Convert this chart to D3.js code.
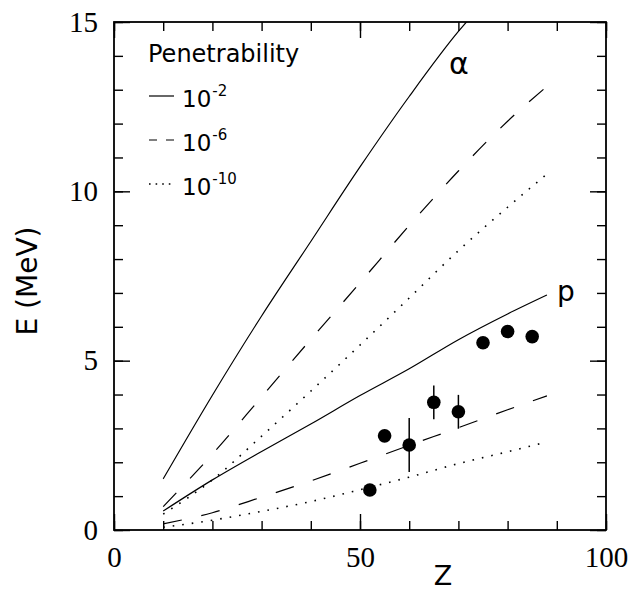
<!DOCTYPE html>
<html><head><meta charset="utf-8">
<script src="https://cdn.jsdelivr.net/npm/d3@7"></script>
<style>body{margin:0;background:#fff}</style>
</head><body><svg id="chart" width="642" height="593"></svg>
<script>
// ---- data ----
const zGrid = [10, 20, 30, 40, 50, 60, 70, 80, 88];
const zAlphaSolid = [10, 20, 30, 40, 50, 60, 70, 75];
const alphaPen2  = [1.51, 3.98, 6.32, 8.52, 10.72, 12.80, 14.72, 15.55];
const alphaPen6  = [0.69, 2.24, 3.93, 5.63, 7.30, 8.99, 10.60, 12.07, 13.10];
const alphaPen10 = [0.47, 1.48, 2.77, 4.10, 5.46, 6.85, 8.25, 9.53, 10.51];
const pPen2  = [0.56, 1.48, 2.32, 3.13, 3.97, 4.76, 5.62, 6.38, 6.94];
const pPen6  = [0.18, 0.51, 0.97, 1.45, 1.97, 2.50, 3.02, 3.55, 3.96];
const pPen10 = [0.08, 0.29, 0.55, 0.84, 1.19, 1.56, 1.96, 2.31, 2.60];
const expZ   = [52, 55, 60, 65, 70, 75, 80, 85];
const expE   = [1.18, 2.78, 2.51, 3.77, 3.49, 5.53, 5.86, 5.71];
const expErr = [0, 0, 0.80, 0.50, 0.50, 0, 0, 0];
const legendLabels = ["-2", "-6", "-10"];
const xMajor = [0, 50, 100];
const yMajor = [0, 5, 10, 15];

// ---- layout ----
const svg = d3.select("#chart");
const L = 114, R = 606, T = 22, B = 530;
const x = d3.scaleLinear().domain([0, 100]).range([L, R]);
const y = d3.scaleLinear().domain([0, 15]).range([B, T]);
const sans = "'DejaVu Sans',sans-serif";
const serif = "'Liberation Serif','Times New Roman','DejaVu Serif',serif";

svg.append("defs").append("clipPath").attr("id", "clip")
  .append("rect").attr("x", L).attr("y", T).attr("width", R - L).attr("height", B - T);

function styleAxis(g) {
  g.attr("font-family", serif).attr("font-size", 29);
  g.select(".domain").remove();
  g.selectAll("line").attr("stroke", "#000").attr("stroke-width", 1.4);
  g.selectAll("text").attr("fill", "#000").attr("font-family", serif).attr("font-size", 29);
}
const xMinor = d3.range(0, 101, 10), yMinor = d3.range(0, 16, 1);
// bottom
svg.append("g").attr("transform", `translate(0,${B})`)
  .call(d3.axisBottom(x).tickValues(xMinor).tickSize(-9).tickFormat("")).call(styleAxis);
svg.append("g").attr("transform", `translate(0,${B})`)
  .call(d3.axisBottom(x).tickValues(xMajor).tickSize(-16).tickPadding(16).tickFormat(d3.format("d"))).call(styleAxis);
// top
svg.append("g").attr("transform", `translate(0,${T})`)
  .call(d3.axisTop(x).tickValues(xMinor).tickSize(-9).tickFormat("")).call(styleAxis);
svg.append("g").attr("transform", `translate(0,${T})`)
  .call(d3.axisTop(x).tickValues(xMajor).tickSize(-16).tickFormat("")).call(styleAxis);
// left
svg.append("g").attr("transform", `translate(${L},0)`)
  .call(d3.axisLeft(y).tickValues(yMinor).tickSize(-9).tickFormat("")).call(styleAxis);
svg.append("g").attr("transform", `translate(${L},0)`)
  .call(d3.axisLeft(y).tickValues(yMajor).tickSize(-16).tickPadding(16).tickFormat(d3.format("d"))).call(styleAxis);
// right
svg.append("g").attr("transform", `translate(${R},0)`)
  .call(d3.axisRight(y).tickValues(yMinor).tickSize(-9).tickFormat("")).call(styleAxis);
svg.append("g").attr("transform", `translate(${R},0)`)
  .call(d3.axisRight(y).tickValues(yMajor).tickSize(-16).tickFormat("")).call(styleAxis);

// frame
svg.append("rect").attr("x", L).attr("y", T).attr("width", R - L).attr("height", B - T)
  .attr("fill", "none").attr("stroke", "#000").attr("stroke-width", 1.8);

// curves
const line = d3.line().x(d => x(d[0])).y(d => y(d[1])).curve(d3.curveMonotoneX);
const curves = [
  { z: zAlphaSolid, e: alphaPen2, dash: null },
  { z: zGrid, e: alphaPen6, dash: "19 20" },
  { z: zGrid, e: alphaPen10, dash: "1.6 8" },
  { z: zGrid, e: pPen2, dash: null },
  { z: zGrid, e: pPen6, dash: "19 20" },
  { z: zGrid, e: pPen10, dash: "1.6 8" }
];
const cg = svg.append("g").attr("clip-path", "url(#clip)");
curves.forEach(c => {
  cg.append("path").datum(c.z.map((z, i) => [z, c.e[i]]))
    .attr("d", line).attr("fill", "none").attr("stroke", "#000")
    .attr("stroke-width", c.dash && c.dash.startsWith("1.6") ? 1.6 : 1.2)
    .attr("stroke-dasharray", c.dash);
});

// experimental points
const pts = expZ.map((z, i) => ({ z, e: expE[i], err: expErr[i] }));
svg.append("g").selectAll("line").data(pts.filter(d => d.err > 0)).join("line")
  .attr("x1", d => x(d.z)).attr("x2", d => x(d.z))
  .attr("y1", d => y(d.e - d.err)).attr("y2", d => y(d.e + d.err))
  .attr("stroke", "#000").attr("stroke-width", 1.5);
svg.append("g").selectAll("circle").data(pts).join("circle")
  .attr("cx", d => x(d.z)).attr("cy", d => y(d.e)).attr("r", 6.8).attr("fill", "#000");

// curve labels
svg.append("text").attr("x", 459).attr("y", 74).attr("text-anchor", "middle")
  .attr("font-family", sans).attr("font-size", 30).text("α");
svg.append("text").attr("x", 557).attr("y", 300.5)
  .attr("font-family", sans).attr("font-size", 28).text("p");

// axis titles
svg.append("text").attr("x", 443).attr("y", 585).attr("text-anchor", "middle")
  .attr("font-family", sans).attr("font-size", 27).text("Z");
svg.append("text").attr("transform", "translate(36.5,281) rotate(-90)").attr("text-anchor", "middle")
  .attr("font-family", sans).attr("font-size", 28).text("E (MeV)");

// legend
const lg = svg.append("g");
lg.append("text").attr("x", 148).attr("y", 62).attr("font-family", sans).attr("font-size", 24)
  .text("Penetrability");
const legDash = [null, "8 9", "1.6 5"];
legendLabels.forEach((lab, i) => {
  const yy = 96 + i * 44;
  lg.append("line").attr("x1", 149).attr("x2", 174).attr("y1", yy).attr("y2", yy)
    .attr("stroke", "#000").attr("stroke-width", i === 2 ? 1.6 : 1.2)
    .attr("stroke-dasharray", legDash[i]);
  const t = lg.append("text").attr("x", 182).attr("y", yy + 11)
    .attr("font-family", sans).attr("font-size", 23);
  t.append("tspan").text("10");
  t.append("tspan").attr("dy", -11).attr("dx", 1).attr("font-size", 15).text(lab);
});
</script>
</body></html>
